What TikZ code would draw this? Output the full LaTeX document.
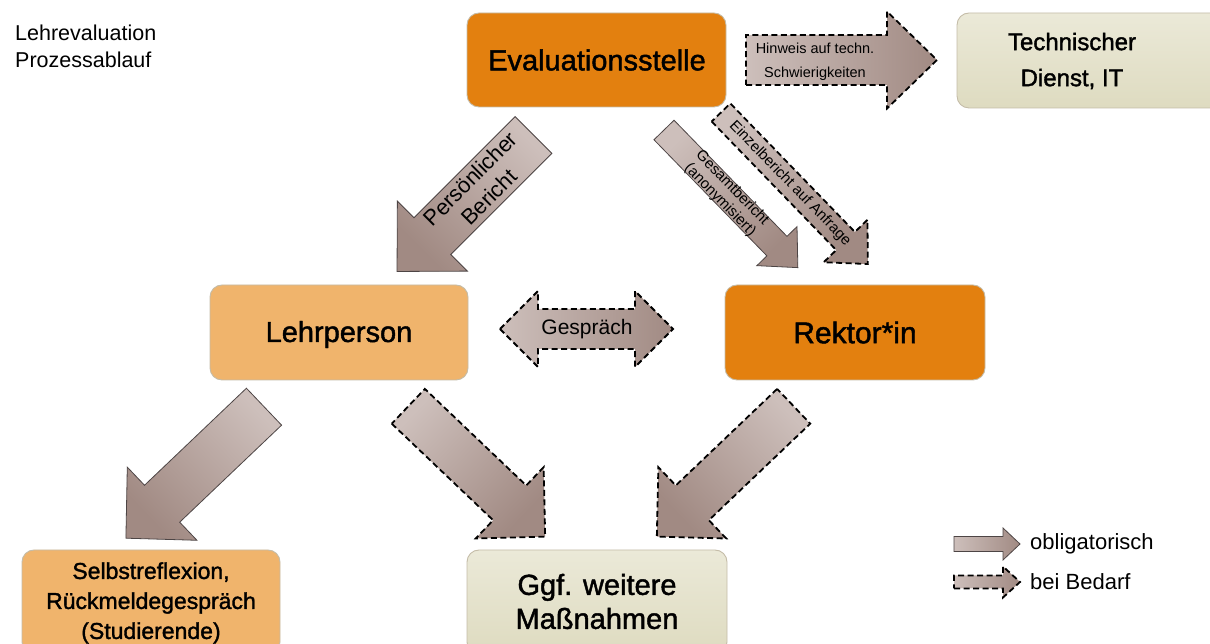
\documentclass[tikz,border=0pt]{standalone}
\usepackage{fontspec}
\setmainfont{Liberation Sans}
\newfontfamily\medfont{Liberation Sans}[FakeBold=1.5]
\definecolor{evorange}{HTML}{E3800F}
\definecolor{lightorange}{HTML}{F0B46C}
\definecolor{beigetop}{HTML}{EBE9D8}
\definecolor{beigebot}{HTML}{DEDBC0}
\definecolor{boxborder}{HTML}{C4BCA8}
\definecolor{arrlight}{HTML}{CDBFBB}
\definecolor{arrdark}{HTML}{A18A83}
\definecolor{arrline}{HTML}{4D4545}
\newcommand\fsz[2]{\fontsize{#1}{#2}\selectfont}
% #1 style, #2 x, #3 y, #4 angle, #5 length, #6 shaft width, #7 head width, #8 head length
\newcommand\blockarrow[8]{%
  \begin{scope}[shift={(#2,#3)},rotate=#4]
    \path[#1, top color=arrlight, bottom color=arrdark, shading angle={#4+90}]
      (0,{-#6/2}) -- ({#5-#8},{-#6/2}) -- ({#5-#8},{-#7/2}) -- (#5,0)
      -- ({#5-#8},{#7/2}) -- ({#5-#8},{#6/2}) -- (0,{#6/2}) -- cycle;
  \end{scope}}
\tikzset{
  box/.style={draw=boxborder, line width=0.9pt, rounded corners=12pt, inner sep=0pt},
  orangebox/.style={box, fill=evorange},
  lightbox/.style={box, fill=lightorange},
  beigebox/.style={box, top color=beigetop, bottom color=beigebot},
  solidarrow/.style={draw=arrline, line width=0.8pt},
  dasharrow/.style={draw=black, line width=1.8pt, dash pattern=on 6pt off 3.5pt},
  lbl/.style={inner sep=0pt, align=center, text=black},
}
\begin{document}
\begin{tikzpicture}[x=1pt,y=1pt]
\useasboundingbox (0,0) rectangle (1210,644);

% title
\node[lbl, anchor=base west, font=\fsz{21.5}{26}] (title1) at (15,603) {Lehrevaluation};
\node[lbl, anchor=base west, font=\fsz{21.5}{26}] (title2) at (15,576) {Prozessablauf};

% boxes
\node[orangebox, minimum width=259pt, minimum height=94pt] (eval) at (596.5,584) {};
\node[lbl, font=\medfont\fsz{29}{34}] (evaltxt) at (597,584) {Evaluationsstelle};
\node[beigebox, minimum width=268pt, minimum height=95pt] (techbox) at (1091,583.5) {};
\node[lbl, font=\medfont\fsz{24}{36}] (tech) at (1072,583) {Technischer\\Dienst, IT};
\node[lightbox, minimum width=258pt, minimum height=95pt] (lehr) at (339,311.5) {};
\node[lbl, font=\medfont\fsz{29}{34}] (lehrtxt) at (339,309.5) {Lehrperson};
\node[orangebox, minimum width=260pt, minimum height=95pt] (rektor) at (855,311.5) {};
\node[lbl, font=\medfont\fsz{30}{34}] (rektortxt) at (855,311.5) {Rektor*in};
\node[lightbox, minimum width=258pt, minimum height=104pt] (selbstbox) at (151,42) {};
\node[lbl, font=\medfont\fsz{23}{30}] (selbst) at (151,41) {Selbstreflexion,\\Rückmeldegespräch\\(Studierende)};
\node[beigebox, minimum width=260pt, minimum height=104pt] (ggfbox) at (597,42) {};
\node[lbl, font=\medfont\fsz{29}{34}] (ggf) at (597,42.5) {Ggf. weitere\\Maßnahmen};

% arrows
\blockarrow{solidarrow}{533.5}{509}{225}{193}{52}{99}{50}
\node[lbl, rotate=45, font=\fsz{22}{26}] (persl) at (479.5,456) {Persönlicher\\Bericht};

\blockarrow{solidarrow}{664}{514}{-45.8}{192}{28}{56}{30}
\node[lbl, rotate=-45.8, font=\fsz{15}{17}] (gesamt) at (726,450) {Gesamtbericht\\(anonymisiert)};

\blockarrow{dasharrow}{721}{531.5}{-45.9}{211}{26}{61}{32}
\node[lbl, rotate=-45.9, font=\fsz{15}{17}] (einzel) at (790,460.4) {Einzelbericht auf Anfrage};

\blockarrow{dasharrow}{746}{584}{0}{191}{50}{97}{50}
\node[lbl, font=\fsz{14.5}{24}] (hinweis) at (815,582) {Hinweis auf techn.\\Schwierigkeiten};

\path[dasharrow, top color=arrlight, bottom color=arrdark, shading angle=90]
  (500,315) -- (538,353) -- (538,335) -- (635,335) -- (635,353) -- (673,315)
  -- (635,277) -- (635,295) -- (538,295) -- (538,277) -- cycle;
\node[lbl, font=\fsz{21}{25}] (gespraech) at (587,315) {Gespräch};

\blockarrow{solidarrow}{264}{237.3}{223.6}{190.7}{51}{101}{50}
\blockarrow{dasharrow}{408.3}{237.7}{-43.6}{189}{48}{98.5}{49}
\blockarrow{dasharrow}{793.7}{237.7}{223.6}{189}{48}{98.5}{49}

% legend
\blockarrow{solidarrow}{954}{100}{0}{66}{15}{32}{17}
\node[lbl, anchor=west, font=\fsz{22}{26}] (leg1) at (1030,100) {obligatorisch};
\blockarrow{dasharrow}{954}{62}{0}{66}{13}{31}{17}
\node[lbl, anchor=west, font=\fsz{22}{26}] (leg2) at (1030,62) {bei Bedarf};
\end{tikzpicture}
\end{document}
